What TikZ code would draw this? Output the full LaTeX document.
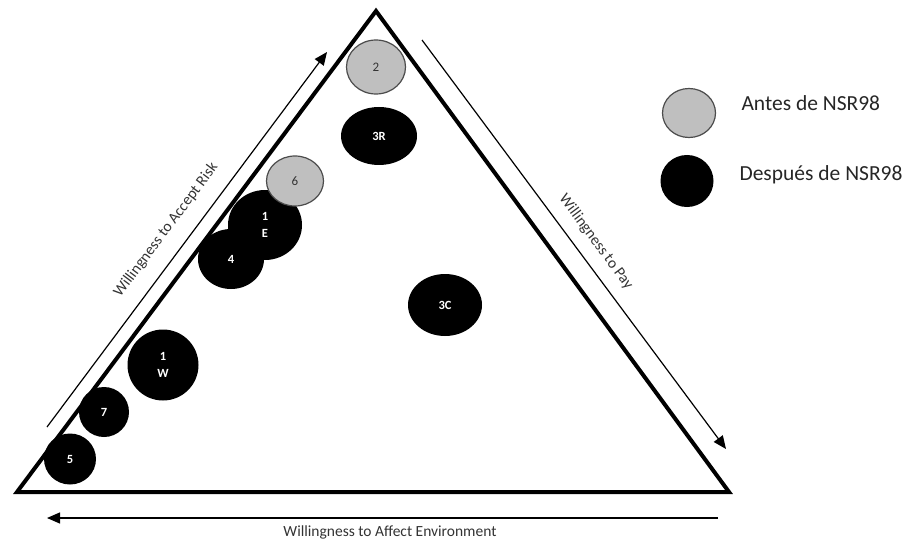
\documentclass[tikz,border=0pt]{standalone}
\usepackage{fontspec}
\setmainfont{Carlito}
\usepackage{tikz}
\usetikzlibrary{arrows.meta, shapes.geometric, positioning}

\begin{document}
\begin{tikzpicture}[x=1pt,y=-1pt,
                    before node/.style={ellipse,draw=black!70,line width=1.2pt,fill=black!25,inner sep=0pt,font=\fontsize{13}{15}\selectfont,text=black!80},
                    after node/.style={ellipse,fill=black,inner sep=0pt,align=center,font=\fontsize{12.5}{16.5}\selectfont\bfseries,text=white},
                    axis arrow/.style={line width=1.2pt,-{Triangle[length=13pt,width=11pt]}},
                    axis label/.style={font=\fontsize{15.5}{17}\selectfont,text=black!80},
                    legend text/.style={font=\fontsize{21.5}{24}\selectfont,text=black!85,anchor=base west}]
\useasboundingbox (0,0) rectangle (912,540);

%Triangle
  \coordinate (Top) at (376,11);
  \coordinate (Left) at (17,492);
  \coordinate (Right) at (729,492);
  \draw[line width=4pt,line join=miter] (Top) -- (Left) -- (Right) -- cycle;

%Axis arrows with their labels
  \coordinate (RiskStart) at (47,427);
  \coordinate (RiskEnd) at (327,52);
  \draw[axis arrow] (RiskStart) -- (RiskEnd);
  \node[axis label,rotate=53.2] (RiskLabel) at (166,230) {Willingness to Accept Risk};

  \coordinate (PayStart) at (422,40);
  \coordinate (PayEnd) at (726,449);
  \draw[axis arrow] (PayStart) -- (PayEnd);
  \node[axis label,rotate=-53.4] (PayLabel) at (596,242) {Willingness to Pay};

  \coordinate (EnvStart) at (718,518);
  \coordinate (EnvEnd) at (47,518);
  \draw[axis arrow] (EnvStart) -- (EnvEnd);
  \node[axis label] (EnvLabel) at (390,532) {Willingness to Affect Environment};

%Cases after NSR98
  \node[after node,minimum width=76pt,minimum height=58pt] (Case3R) at (379,136) {3R};
  \node[after node,minimum width=74pt,minimum height=70pt] (Case1E) at (265,225) {1\\E};
  \node[after node,minimum width=66pt,minimum height=60pt] (Case4) at (231,259) {4};
  \node[after node,minimum width=71pt,minimum height=71pt] (Case1W) at (163,365) {1\\W};
  \node[after node,minimum width=50pt,minimum height=50pt] (Case7) at (104,412) {7};
  \node[after node,minimum width=52pt,minimum height=51pt] (Case5) at (70,459) {5};
  \node[after node,minimum width=74pt,minimum height=62pt] (Case3C) at (445,305) {3C};

%Cases before NSR98
  \node[before node,minimum width=59pt,minimum height=54pt] (Case2) at (376,67) {2};
  \node[before node,minimum width=57pt,minimum height=50pt] (Case6) at (295,181) {6};

%Legend
  \node[before node,minimum width=53pt,minimum height=49pt] (LegendBefore) at (689,113) {};
  \node[after node,minimum width=53pt,minimum height=52pt] (LegendAfter) at (687,181) {};
  \node[legend text] (LegendBeforeText) at (738,111) {Antes de NSR98};
  \node[legend text] (LegendAfterText) at (736,180) {Después de NSR98};

\end{tikzpicture}
\end{document}
